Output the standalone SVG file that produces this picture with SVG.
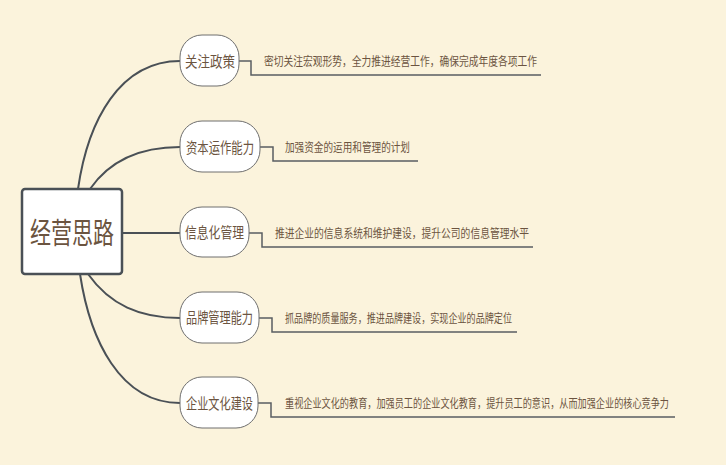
<svg xmlns="http://www.w3.org/2000/svg" width="726" height="465" viewBox="0 0 726 465">
<style>
text{font-family:"Noto Sans CJK SC","Noto Sans CJK JP",sans-serif;fill:#6b5440}
.n{fill:#fff;stroke:#6e6e6e;stroke-width:1}
.c{fill:none;stroke:#4a5056;stroke-width:2}
.d{fill:none;stroke:#5a5e62;stroke-width:1.5}
.t{font-size:15px}
.s{font-size:12px}
</style>
<rect width="726" height="465" fill="#fbf3dc"/>
<g id="connectors">
<path class="c" d="M78,189 C88,120 120,61 180,61"/>
<path class="c" d="M90,189 C110,160 140,147 180,147"/>
<path class="c" d="M122,233 L180,233"/>
<path class="c" d="M88,274 C110,305 140,318 180,318"/>
<path class="c" d="M80,274 C90,340 120,403 180,403"/>
<path class="d" d="M239,61 H251 V75 H541"/>
<path class="d" d="M260,147 H273 V161 H418"/>
<path class="d" d="M249,233 H262 V247 H533"/>
<path class="d" d="M259,318 H272 V332 H517"/>
<path class="d" d="M258,403 H271 V417 H675"/>
</g>
<g id="center"><rect x="22" y="189" width="100" height="85" rx="3" fill="#fff" stroke="#4a5056" stroke-width="2.5"/><text x="30" y="244" font-size="29" textLength="84" lengthAdjust="spacingAndGlyphs">经营思路</text></g>
<g id="n1"><rect class="n" x="180" y="35" width="59" height="51" rx="22"/><text class="t" x="185" y="67" textLength="50" lengthAdjust="spacingAndGlyphs">关注政策</text></g>
<g id="n2"><rect class="n" x="180" y="121" width="80" height="51" rx="22"/><text class="t" x="186" y="153" textLength="68" lengthAdjust="spacingAndGlyphs">资本运作能力</text></g>
<g id="n3"><rect class="n" x="180" y="207" width="69" height="50" rx="22"/><text class="t" x="185" y="238" textLength="59" lengthAdjust="spacingAndGlyphs">信息化管理</text></g>
<g id="n4"><rect class="n" x="180" y="292" width="79" height="51" rx="22"/><text class="t" x="186" y="323" textLength="67" lengthAdjust="spacingAndGlyphs">品牌管理能力</text></g>
<g id="n5"><rect class="n" x="180" y="377" width="78" height="51" rx="22"/><text class="t" x="186" y="409" textLength="67" lengthAdjust="spacingAndGlyphs">企业文化建设</text></g>
<g id="l1"><text class="s" x="264" y="66" textLength="273" lengthAdjust="spacingAndGlyphs">密切关注宏观形势，全力推进经营工作，确保完成年度各项工作</text></g>
<g id="l2"><text class="s" x="285" y="152" textLength="125" lengthAdjust="spacingAndGlyphs">加强资金的运用和管理的计划</text></g>
<g id="l3"><text class="s" x="275" y="238" textLength="254" lengthAdjust="spacingAndGlyphs">推进企业的信息系统和维护建设，提升公司的信息管理水平</text></g>
<g id="l4"><text class="s" x="285" y="323" textLength="227" lengthAdjust="spacingAndGlyphs">抓品牌的质量服务，推进品牌建设，实现企业的品牌定位</text></g>
<g id="l5"><text class="s" x="285" y="408" textLength="384" lengthAdjust="spacingAndGlyphs">重视企业文化的教育，加强员工的企业文化教育，提升员工的意识，从而加强企业的核心竞争力</text></g>
</svg>
